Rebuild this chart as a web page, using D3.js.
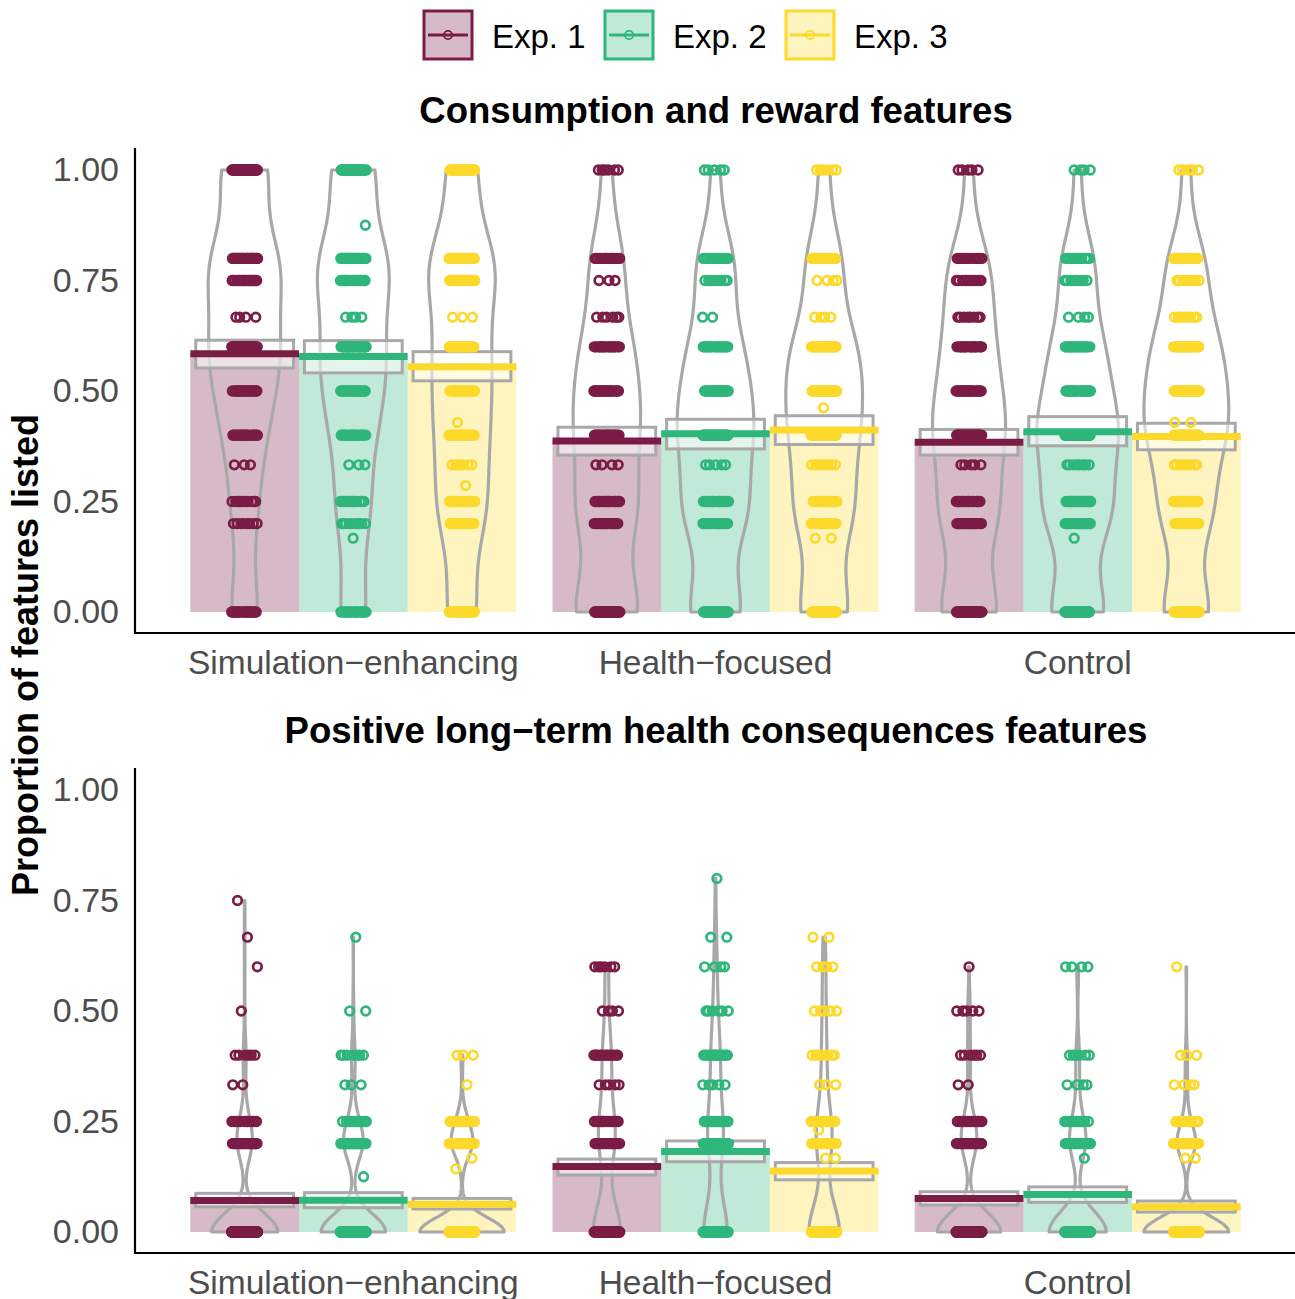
<!DOCTYPE html>
<html>
<head>
<meta charset="utf-8">
<script src="https://cdn.jsdelivr.net/npm/d3@7"></script>
<style>
  body { margin: 0; background: #fff; }
  svg { display: block; font-family: "Liberation Sans", Arial, Helvetica, sans-serif; }
</style>
</head>
<body>
<div id="chart"></div>
<script>
const groups = ["Simulation\u2212enhancing", "Health\u2212focused", "Control"];
const exps = ["Exp. 1", "Exp. 2", "Exp. 3"];
const expColors = ["#7A1C46", "#2EB67B", "#FCD92A"];
const yTicks = [0, 0.25, 0.5, 0.75, 1];
const titleTop = "Consumption and reward features";
const titleBottom = "Positive long\u2212term health consequences features";
const yTitle = "Proportion of features listed";

// observed response values (distinct proportions) for each panel
const valuesTop = [0, 0.167, 0.2, 0.25, 0.286, 0.333, 0.4, 0.429, 0.462, 0.5, 0.6, 0.667, 0.75, 0.8, 0.875, 1];
const valuesBottom = [0, 0.125, 0.143, 0.167, 0.2, 0.231, 0.25, 0.333, 0.4, 0.5, 0.6, 0.667, 0.75, 0.8];

// number of participants at each value: [group][experiment][value]
const countsTop = [
  [[20,0,8,10,0,3,20,0,0,20,36,4,20,32,0,35],
   [18,1,10,12,0,3,18,0,0,22,28,4,20,30,1,31],
   [20,0,16,14,1,6,20,1,0,18,24,3,18,28,0,21]],
  [[40,0,18,18,0,4,24,0,0,20,18,6,3,16,0,6],
   [30,0,18,18,0,5,28,0,0,20,20,2,8,14,0,5],
   [28,2,16,14,0,8,22,0,1,22,24,4,4,16,0,6]],
  [[36,0,20,16,0,5,30,0,0,20,18,8,12,12,0,5],
   [32,1,20,18,0,8,32,0,0,20,20,4,8,12,0,4],
   [28,0,16,14,0,8,28,2,0,26,24,8,8,14,0,5]]
];
const countsBottom = [
  [[150,0,0,0,28,0,12,2,6,1,1,1,1,0],
   [140,1,0,0,36,0,12,3,7,2,0,1,0,0],
   [140,0,1,1,30,0,14,1,3,0,0,0,0,0]],
  [[56,0,0,0,22,0,14,5,14,4,6,0,0,0],
   [50,0,0,0,20,0,14,5,14,6,4,2,0,1],
   [60,0,0,2,18,1,12,3,7,5,4,2,0,0]],
  [[140,0,0,0,26,0,14,2,6,5,1,0,0,0],
   [120,0,0,1,26,0,12,4,6,0,4,0,0,0],
   [160,0,0,2,30,0,10,4,3,0,1,0,0,0]]
];

// means and 95% HDI bounds: [group][experiment]
const meansTop = [[0.584, 0.578, 0.555], [0.387, 0.403, 0.412], [0.384, 0.408, 0.397]];
const hdiLowTop = [[0.552, 0.541, 0.523], [0.355, 0.369, 0.379], [0.355, 0.376, 0.367]];
const hdiHighTop = [[0.615, 0.614, 0.589], [0.418, 0.436, 0.444], [0.413, 0.442, 0.427]];
const meansBottom = [[0.071, 0.072, 0.063], [0.148, 0.182, 0.138], [0.076, 0.085, 0.057]];
const hdiLowBottom = [[0.057, 0.055, 0.052], [0.129, 0.159, 0.118], [0.061, 0.067, 0.045]];
const hdiHighBottom = [[0.0875, 0.089, 0.076], [0.165, 0.206, 0.157], [0.091, 0.102, 0.070]];

const W = 1295, H = 1299;
const svg = d3.select("#chart").append("svg").attr("width", W).attr("height", H);

const xGroup = d3.scaleBand().domain(groups).range([136, 1295]).paddingInner(0.1).paddingOuter(0.15);
const xExp = d3.scaleBand().domain(exps).range([0, xGroup.bandwidth()]);
const barW = xExp.bandwidth();

// Silverman's rule of thumb (R bw.nrd0)
function bwNrd0(xs) {
  const s = xs.slice().sort(d3.ascending);
  const sd = d3.deviation(s);
  let lo = Math.min(sd, (d3.quantileSorted(s, 0.75) - d3.quantileSorted(s, 0.25)) / 1.34);
  if (!lo) lo = sd || Math.abs(s[0]) || 1;
  return 0.9 * lo * Math.pow(s.length, -0.2);
}

function expand(values, counts) {
  const out = [];
  values.forEach((v, i) => { for (let k = 0; k < counts[i]; k++) out.push(v); });
  return out;
}

function beanDensity(xs) {
  const h = bwNrd0(xs);
  const n = xs.length;
  const lo = d3.min(xs), hi = d3.max(xs);
  const grid = d3.range(0, 161).map(i => lo + (hi - lo) * i / 160);
  return grid.map(v => {
    let s = 0;
    for (const x of xs) { const z = (v - x) / h; s += Math.exp(-0.5 * z * z); }
    return [v, s / (n * h * Math.sqrt(2 * Math.PI))];
  });
}

const panels = [
  { title: titleTop, values: valuesTop, counts: countsTop, means: meansTop, lows: hdiLowTop, highs: hdiHighTop,
    y: d3.scaleLinear().domain([0, 1]).range([612, 170]), titleY: 123 },
  { title: titleBottom, values: valuesBottom, counts: countsBottom, means: meansBottom, lows: hdiLowBottom, highs: hdiHighBottom,
    y: d3.scaleLinear().domain([0, 1]).range([1232, 790]), titleY: 743 }
];

panels.forEach((p, pi) => {
  const y = p.y;
  const g = svg.append("g");

  // beans: densities per group/experiment, scaled to the widest bean in this panel
  const beans = [];
  groups.forEach((grp, gi) => exps.forEach((ex, ei) => {
    const xs = expand(p.values, p.counts[gi][ei]);
    beans.push({ gi, ei, grp, ex, xs, dens: beanDensity(xs),
      cx: xGroup(grp) + xExp(ex) + barW / 2 });
  }));
  const maxDens = d3.max(beans, b => d3.max(b.dens, d => d[1]));
  const wScale = d3.scaleLinear().domain([0, maxDens]).range([0, barW * 0.39]);

  // bars
  g.selectAll("rect.bar").data(beans).join("rect")
    .attr("class", "bar")
    .attr("x", b => xGroup(b.grp) + xExp(b.ex))
    .attr("width", barW)
    .attr("y", b => y(p.means[b.gi][b.ei]))
    .attr("height", b => y(0) - y(p.means[b.gi][b.ei]))
    .attr("fill", b => expColors[b.ei])
    .attr("fill-opacity", 0.3);

  // bean outlines
  const beanLine = d3.line().curve(d3.curveLinear);
  g.selectAll("path.bean").data(beans).join("path")
    .attr("class", "bean")
    .attr("d", b => {
      const right = b.dens.map(d => [b.cx + wScale(d[1]), y(d[0])]);
      const left = b.dens.slice().reverse().map(d => [b.cx - wScale(d[1]), y(d[0])]);
      return beanLine(right.concat(left)) + "Z";
    })
    .attr("fill", "none")
    .attr("stroke", "#A8A8A8")
    .attr("stroke-width", 3.2)
    .attr("stroke-linejoin", "round");

  // HDI boxes
  g.selectAll("rect.hdi").data(beans).join("rect")
    .attr("class", "hdi")
    .attr("x", b => b.cx - barW * 0.45)
    .attr("width", barW * 0.9)
    .attr("y", b => y(p.highs[b.gi][b.ei]))
    .attr("height", b => y(p.lows[b.gi][b.ei]) - y(p.highs[b.gi][b.ei]))
    .attr("fill", "#fff")
    .attr("fill-opacity", 0.55)
    .attr("stroke", "#A8A8A8")
    .attr("stroke-width", 3);

  // raw points, spread horizontally with a golden-ratio sequence
  beans.forEach((b, bi) => {
    const pts = b.xs.map((v, k) => ({ v, off: ((k * 0.6180339887 + bi * 0.37) % 1) * 2 - 1 }));
    g.append("g").selectAll("circle").data(pts).join("circle")
      .attr("cx", d => b.cx + d.off * 13)
      .attr("cy", d => y(d.v))
      .attr("r", 4.3)
      .attr("fill", "none")
      .attr("stroke", expColors[b.ei])
      .attr("stroke-width", 2.7);
  });

  // mean lines
  g.selectAll("line.mean").data(beans).join("line")
    .attr("class", "mean")
    .attr("x1", b => xGroup(b.grp) + xExp(b.ex))
    .attr("x2", b => xGroup(b.grp) + xExp(b.ex) + barW)
    .attr("y1", b => y(p.means[b.gi][b.ei]))
    .attr("y2", b => y(p.means[b.gi][b.ei]))
    .attr("stroke", b => expColors[b.ei])
    .attr("stroke-width", 7);

  // axes
  const yAxis = d3.axisLeft(y).tickValues(yTicks).tickFormat(d3.format(".2f")).tickSize(0).tickPadding(16);
  const ya = g.append("g").attr("transform", "translate(135,0)").call(yAxis);
  ya.select(".domain").remove();
  ya.selectAll("text").attr("font-size", 34).attr("fill", "#4D4D4D").attr("font-family", null);

  const xAxis = d3.axisBottom(xGroup).tickSize(0).tickPadding(17);
  const xa = g.append("g").attr("transform", `translate(0,${y(-0.0475)})`).call(xAxis);
  xa.select(".domain").remove();
  xa.selectAll("text").attr("font-size", 33.5).attr("fill", "#4D4D4D").attr("font-family", null);

  g.append("path")
    .attr("d", `M135,${y(1.05)}V${y(-0.0475)}H1295`)
    .attr("fill", "none").attr("stroke", "#000").attr("stroke-width", 2.2);

  g.append("text")
    .attr("x", 716).attr("y", p.titleY)
    .attr("text-anchor", "middle")
    .attr("font-size", 36.6).attr("font-weight", "bold")
    .text(p.title);
});

// shared y title
svg.append("text")
  .attr("transform", "translate(38,655) rotate(-90)")
  .attr("text-anchor", "middle")
  .attr("font-size", 36).attr("font-weight", "bold")
  .text(yTitle);

// legend
const legend = svg.append("g");
const item = legend.selectAll("g").data(exps).join("g")
  .attr("transform", (d, i) => `translate(${424 + i * 181},11)`);
item.append("rect")
  .attr("width", 48).attr("height", 48)
  .attr("fill", (d, i) => expColors[i]).attr("fill-opacity", 0.3)
  .attr("stroke", (d, i) => expColors[i]).attr("stroke-width", 3);
item.append("line")
  .attr("x1", 4).attr("x2", 44).attr("y1", 24).attr("y2", 24)
  .attr("stroke", (d, i) => expColors[i]).attr("stroke-width", 3);
item.append("circle")
  .attr("cx", 24).attr("cy", 24).attr("r", 4.2)
  .attr("fill", "none")
  .attr("stroke", (d, i) => expColors[i]).attr("stroke-width", 1.8);
item.append("text")
  .attr("x", 68).attr("y", 37)
  .attr("font-size", 33)
  .text(d => d);
</script>
</body>
</html>
